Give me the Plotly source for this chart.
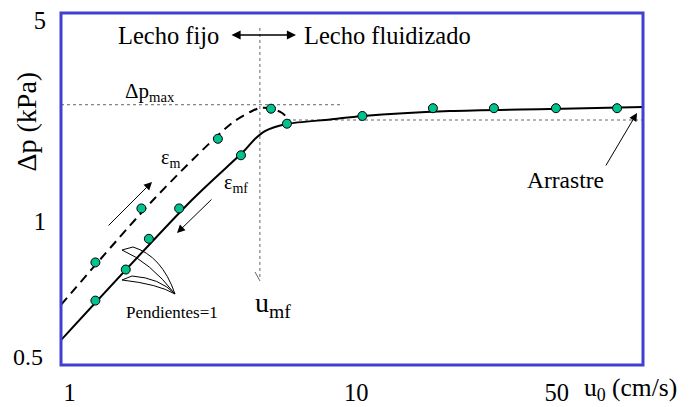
import plotly.graph_objects as go

# ---------------- data ----------------
# Fixed-bed / fluidized-bed pressure drop curve, log-log axes
# Points measured while decreasing the velocity (solid curve, eps_mf)
u_desc = [1.23, 1.57, 1.89, 2.41, 3.96, 5.73, 10.5, 18.5, 30.2, 49.7, 81.2]
dp_desc = [0.53, 0.68, 0.87, 1.11, 1.70, 2.19, 2.33, 2.48, 2.48, 2.48, 2.48]
# Points measured while increasing the velocity (dashed curve, eps_m)
u_asc = [1.23, 1.78, 3.29, 5.04]
dp_asc = [0.72, 1.11, 1.94, 2.47]

# Curves drawn through the data
u_curve_solid = [0.933, 2.67, 4.09, 4.43, 4.80, 5.73, 8.10, 10.55, 21.2, 47.4, 100.0]
dp_curve_solid = [0.386, 1.188, 1.774, 1.938, 2.065, 2.185, 2.265, 2.33, 2.425, 2.465, 2.504]
u_curve_dash = [0.933, 1.986, 3.685, 4.33, 4.61, 5.04, 5.51, 5.87]
dp_curve_dash = [0.512, 1.207, 2.202, 2.425, 2.484, 2.475, 2.387, 2.238]

# Characteristic values
u_mf = 4.61          # minimum fluidization velocity (cm/s)
dp_max = 2.55        # maximum pressure drop (kPa)
dp_fluid = 2.256     # pressure drop of fluidized bed (kPa)
u_dp_max_end = 9.0   # end of dp_max guide line
u_mf_top, u_mf_bottom = 4.72, 0.63

# Axis
x_range_log = [-0.03, 2.0]
y_range_log = [-0.5, 0.726]
x_tick_vals = [1, 10, 50]
x_tick_text = ["1", "10", "50"]
y_tick_vals = [1, 5]
y_tick_text = ["1", "5"]
y_bottom_label = "0.5"

# ---------------- layout helpers ----------------
W, H = 696, 407
ML, MR, MT, MB = 61, 53, 13, 42
PW, PH = W - ML - MR, H - MT - MB


def px(xp):
    return (xp - ML) / PW


def py(yp):
    return (H - MB - yp) / PH


FONT = "Liberation Serif, Times New Roman, Times, DejaVu Serif, serif"
BLUE = "#4040d2"
TEAL = "#00c28e"
GRAY = "#666666"

fig = go.Figure()

# guide lines (dotted)
xmin = 10 ** x_range_log[0]
xmax = 10 ** x_range_log[1]
fig.add_trace(go.Scatter(x=[xmin, u_dp_max_end], y=[dp_max, dp_max], mode="lines",
                         line=dict(color=GRAY, width=1, dash="dot"), hoverinfo="skip"))
fig.add_trace(go.Scatter(x=[u_desc[5], xmax], y=[dp_fluid, dp_fluid], mode="lines",
                         line=dict(color=GRAY, width=1, dash="dot"), hoverinfo="skip"))
fig.add_trace(go.Scatter(x=[u_mf, u_mf], y=[u_mf_top, u_mf_bottom], mode="lines",
                         line=dict(color=GRAY, width=1, dash="dot"), hoverinfo="skip"))

# curves
fig.add_trace(go.Scatter(x=u_curve_dash, y=dp_curve_dash, mode="lines",
                         line=dict(color="black", width=2, dash="9px,6px", shape="spline", smoothing=0.8)))
fig.add_trace(go.Scatter(x=u_curve_solid, y=dp_curve_solid, mode="lines",
                         line=dict(color="black", width=2, shape="spline", smoothing=0.8)))

# data points
mk = dict(color=TEAL, size=9, line=dict(color="black", width=1))
fig.add_trace(go.Scatter(x=u_asc, y=dp_asc, mode="markers", marker=mk))
fig.add_trace(go.Scatter(x=u_desc, y=dp_desc, mode="markers", marker=mk))

ann = []


def text(t, xp, yp, size, xanchor="center", yanchor="middle", angle=0):
    ann.append(dict(text=t, x=px(xp), y=py(yp), xref="paper", yref="paper",
                    showarrow=False, xanchor=xanchor, yanchor=yanchor, textangle=angle,
                    font=dict(family=FONT, size=size, color="black")))


def arrow(tip, tail, head=2, size=1.5, width=1.2, color="black", side="end"):
    ann.append(dict(text="", x=px(tip[0]), y=py(tip[1]), xref="paper", yref="paper",
                    showarrow=True, ax=tail[0] - tip[0], ay=tail[1] - tip[1],
                    arrowhead=head, startarrowhead=head, arrowsize=size, startarrowsize=size,
                    arrowwidth=width, arrowcolor=color, arrowside=side, standoff=0, startstandoff=0))


text("Lecho fijo", 168.5, 35, 24.5)
text("Lecho fluidizado", 387.5, 35, 24.5)
arrow((296, 35), (230, 35), side="end+start", size=1.4, width=1.3)
text("Δp<sub>max</sub>", 123, 92, 21, xanchor="left")
text("ε<sub>m</sub>", 170, 158, 20)
text("ε<sub>mf</sub>", 235.5, 183, 20)
text("u<sub>mf</sub>", 253, 304, 28, xanchor="left")
text("Pendientes=1", 171.5, 312, 17)
text("Arrastre", 565, 180, 23.5)
text("u<sub>0</sub> (cm/s)", 582, 389, 25.5, xanchor="left")
text("Δp (kPa)", 26, 121.5, 28, angle=-90)
text(y_bottom_label, 45, 357, 24, xanchor="right")

arrow((152, 182), (107, 227), size=1.6, width=1)
arrow((177, 233), (213, 198), size=1.6, width=1)
arrow((637, 113), (605, 167), size=1.6, width=1)

shapes = [dict(type="rect", xref="paper", yref="paper", x0=0, y0=0, x1=1, y1=1,
               line=dict(color=BLUE, width=3))]


def path(points_cmds):
    s = ""
    for cmd, pts in points_cmds:
        s += cmd + " " + " ".join(f"{px(a):.5f},{py(b):.5f}" for a, b in pts) + " "
    return s.strip()


# curved "Pendientes=1" arrows and the u_mf open arrow head
shapes.append(dict(type="path", xref="paper", yref="paper",
                   path=path([("M", [(175, 294)]), ("Q", [(162, 256), (133, 247)]),
                              ("L", [(122, 250), (132, 254)]), ("Q", [(150, 262), (175, 294)])]),
                   line=dict(color="black", width=1)))
shapes.append(dict(type="path", xref="paper", yref="paper",
                   path=path([("M", [(175, 294)]), ("Q", [(160, 278), (132, 276)]),
                              ("L", [(122, 280), (129, 284)]), ("Q", [(158, 284), (175, 294)])]),
                   line=dict(color="black", width=1)))
shapes.append(dict(type="path", xref="paper", yref="paper",
                   path=path([("M", [(255, 272)]), ("L", [(260, 281), (265, 272)])]),
                   line=dict(color=GRAY, width=1)))

fig.update_layout(
    width=W, height=H, margin=dict(l=ML, r=MR, t=MT, b=MB, autoexpand=False),
    paper_bgcolor="white", plot_bgcolor="white", showlegend=False,
    annotations=ann, shapes=shapes,
    xaxis=dict(type="log", range=x_range_log, tickvals=x_tick_vals, ticktext=x_tick_text,
               showgrid=False, zeroline=False, showline=False, ticks="", automargin=False,
               tickfont=dict(family=FONT, size=24.5, color="black"), ticklabelstandoff=10),
    yaxis=dict(type="log", range=y_range_log, tickvals=y_tick_vals, ticktext=y_tick_text,
               showgrid=False, zeroline=False, showline=False, ticks="", automargin=False,
               tickfont=dict(family=FONT, size=24.5, color="black"), ticklabelstandoff=14),
)

fig.write_html("out.html", config={"displayModeBar": False},
               post_script="document.body.style.margin='0';")
